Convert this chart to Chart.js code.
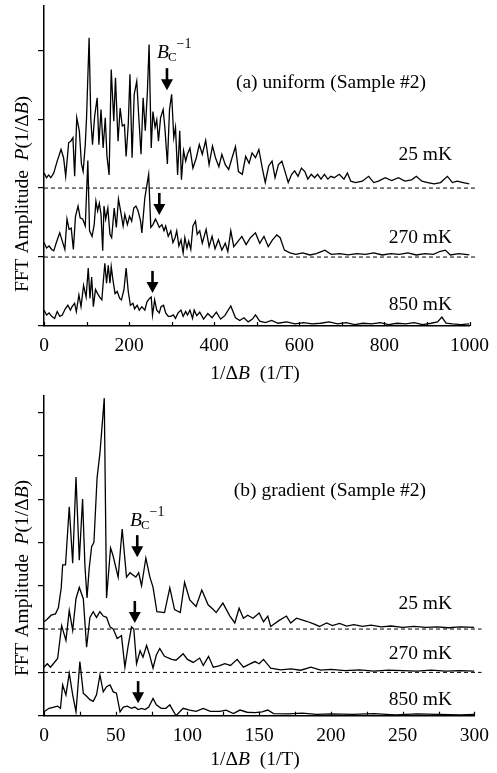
<!DOCTYPE html>
<html><head><meta charset="utf-8">
<script src="https://cdn.jsdelivr.net/npm/chart.js@4"></script>
<style>
html,body{margin:0;padding:0;background:#fff}
body{width:497px;height:773px;overflow:hidden;position:relative}
#w1{position:absolute;left:0;top:0;width:497px;height:386px}
#w2{position:absolute;left:0;top:386px;width:497px;height:387px}
</style></head><body>
<div id="w1"><canvas id="c1"></canvas></div>
<div id="w2"><canvas id="c2"></canvas></div>
<script>
// ---------- Panel (a): uniform, 1/ΔB in 1/T (values relative to each trace's baseline) ----------
const a25x=[0,6,11,16,23,31,40,46,51,58,63,68,72,77,83,88,92,97,100,106,110,114,119,125,129,134,139,144,148,153,158,164,168,174,179,184,189,193,198,202,207,212,218,222,228,233,238,243,247,252,256,261,265,269,274,280,284,290,295,300,305,309,314,319,323,328,333,337,343,350,358,365,372,380,388,396,403,411,418,426,434,442,450,457,466,474,482,489,497,505,513,520,528,536,543,551,559,566,574,582,589,597,605,613,620,628,636,643,651,659,667,674,682,694,705,713,721,732,748,763,775,786,802,817,833,848,864,875,888,902,917,932,948,960,971,985,1000];
const a25y=[0.22,0.15,0.19,0.15,0.22,0.39,0.56,0.44,0.17,0.66,0.68,0.73,0.17,1.02,0.83,0.35,0.24,0.63,1.02,2.18,1.0,0.63,1.04,1.31,0.63,1.14,0.58,1.02,0.46,0.19,1.72,0.97,1.6,0.68,1.16,0.9,0.92,0.46,0.92,1.65,0.44,1.36,1.55,1.11,0.49,1.31,0.83,1.4,2.08,0.58,1.11,0.88,0.99,0.68,1.02,1.14,0.88,0.35,1.14,1.36,0.73,0.88,0.19,0.83,0.12,0.54,0.39,0.49,0.58,0.29,0.44,0.63,0.49,0.69,0.34,0.61,0.44,0.31,0.49,0.34,0.27,0.44,0.6,0.24,0.2,0.46,0.36,0.51,0.44,0.56,0.29,0.08,0.32,0.39,0.15,0.34,0.39,0.25,0.08,0.2,0.25,0.17,0.29,0.24,0.13,0.2,0.15,0.2,0.13,0.2,0.13,0.17,0.15,0.2,0.13,0.22,0.1,0.08,0.1,0.17,0.08,0.1,0.15,0.11,0.15,0.1,0.12,0.17,0.1,0.08,0.06,0.08,0.17,0.08,0.1,0.08,0.06];
const a270x=[0,6,12,18,23,29,37,43,49,54,59,64,69,74,80,85,91,97,103,107,113,118,122,126,130,134,138,141,145,150,155,159,165,170,175,180,186,190,196,201,206,211,216,221,227,230,237,242,246,251,256,262,266,271,277,282,286,292,298,303,308,312,317,322,327,331,336,340,345,350,356,360,366,372,381,388,395,402,410,418,426,432,439,446,455,465,475,485,497,507,517,527,537,547,555,565,578,592,608,625,640,660,675,695,715,735,755,775,795,815,835,855,875,895,915,930,943,955,975,1000];
const a270y=[0.21,0.13,0.16,0.11,0.09,0.21,0.35,0.23,0.11,0.55,0.4,0.42,0.11,0.59,0.74,0.57,0.55,0.45,1.4,0.38,0.3,0.47,0.81,0.67,0.78,0.62,0.09,0.74,0.55,0.71,0.33,0.28,0.71,0.43,0.84,0.67,0.45,0.62,0.47,0.59,0.52,0.71,0.74,0.67,0.52,0.35,0.86,1.05,1.2,0.43,0.47,0.55,0.5,0.43,0.47,0.38,0.45,0.3,0.38,0.21,0.28,0.38,0.16,0.25,0.06,0.28,0.13,0.23,0.11,0.45,0.52,0.33,0.38,0.2,0.4,0.15,0.3,0.12,0.25,0.1,0.2,0.08,0.38,0.15,0.22,0.3,0.18,0.28,0.35,0.2,0.3,0.15,0.25,0.32,0.28,0.1,0.06,0.04,0.06,0.03,0.05,0.1,0.04,0.05,0.03,0.05,0.04,0.06,0.03,0.05,0.04,0.06,0.03,0.05,0.04,0.08,0.1,0.03,0.05,0.03];
const a850x=[0,6,12,18,25,31,37,43,50,56,62,66,72,76,82,87,93,99,104,108,112,116,121,126,131,136,139,143,147,151,155,158,162,167,172,178,182,188,193,198,203,209,213,219,224,230,237,242,248,252,255,260,265,271,275,281,286,292,298,304,309,315,322,327,333,337,343,349,353,359,366,375,385,395,405,415,425,439,450,460,470,480,490,497,507,520,535,550,570,590,610,630,650,670,690,710,730,750,770,790,810,830,850,870,890,910,925,935,945,960,980,1000];
const a850y=[0.23,0.16,0.19,0.14,0.11,0.21,0.14,0.16,0.25,0.3,0.23,0.28,0.33,0.21,0.45,0.28,0.59,0.42,0.84,0.4,0.71,0.28,0.53,0.47,0.42,0.38,0.62,0.91,0.62,0.88,0.62,0.86,0.67,0.47,0.5,0.4,0.38,0.53,0.84,0.5,0.3,0.33,0.25,0.3,0.23,0.28,0.23,0.35,0.4,0.42,0.16,0.38,0.23,0.19,0.28,0.3,0.19,0.14,0.14,0.16,0.11,0.19,0.23,0.14,0.21,0.16,0.23,0.11,0.23,0.15,0.2,0.1,0.18,0.12,0.2,0.1,0.15,0.29,0.12,0.08,0.12,0.06,0.1,0.16,0.07,0.05,0.08,0.04,0.06,0.03,0.05,0.03,0.04,0.06,0.03,0.05,0.02,0.04,0.03,0.05,0.02,0.04,0.03,0.05,0.02,0.04,0.06,0.13,0.04,0.03,0.02,0.03];

// ---------- Panel (b): gradient ----------
const b25x=[0,2,5,8,10,12,13,15,17.6,20,22.3,24.6,26.9,28.5,30,31.5,33.2,34.8,37,39,42,43.6,46.4,48,51.7,54.5,57.5,60,62,64,66,68,71,73.8,76,78.7,84,87.7,91,95,98,101.6,106,110,114.4,118,120,124.7,129.6,133,136,139,142,145.7,150,153,156,158,164,169,172,176,183,188,192,197,201,206,211,216,222,228,235,242,250,258,266,274,282,290,300];
const b25y=[0.17,0.22,0.32,0.35,0.49,0.95,1.48,1.48,2.82,1.52,3.51,1.59,3.0,1.48,0.72,1.4,1.9,2.0,3.49,4.06,5.33,0.72,1.87,1.71,1.2,2.31,1.2,1.3,1.25,1.2,1.3,1.0,1.64,1.2,0.97,0.4,0.38,0.95,0.45,0.38,1.08,0.67,0.52,0.9,0.56,0.45,0.38,0.6,0.3,0.14,0.48,0.25,0.32,0.25,0.37,0.17,0.3,0.06,0.2,0.3,0.14,0.25,0.18,0.12,0.06,0.14,0.08,0.13,0.07,0.1,0.06,0.09,0.05,0.07,0.04,0.06,0.04,0.05,0.03,0.05,0.04];
const b270x=[0,2.3,4.5,6.5,9.5,12.3,15.3,17.6,20,22.3,24.6,27.4,29.7,32,34.3,36.6,39,41.3,43.6,46,48.3,51,54,56.4,58.7,61,62.6,64.5,67,69,71.5,73.6,76,78.3,80.7,84,89,92,97,100,104,108.5,111,114.7,118,122,126,130,134.6,139,142.6,147,150,153,158,165,172,179,186,193,200,210,220,230,240,250,260,270,280,290,300];
const b270y=[0.12,0.2,0.12,0.2,0.32,1.08,0.74,1.43,0.97,1.7,1.96,1.7,0.58,1.27,1.4,1.27,1.4,1.3,1.27,1.05,1.0,0.78,0.85,0.12,0.62,1.05,1.0,0.2,0.5,0.35,0.62,0.4,0.1,0.4,0.55,0.37,0.3,0.28,0.43,0.3,0.23,0.33,0.16,0.37,0.12,0.15,0.2,0.16,0.3,0.12,0.18,0.25,0.2,0.3,0.1,0.06,0.08,0.05,0.12,0.05,0.07,0.04,0.06,0.03,0.05,0.04,0.03,0.05,0.03,0.04,0.03];
const b850x=[0,3.5,7,9.5,11.5,13,15.3,17.6,20,22.3,25,27.4,29.7,32,34.3,36.6,39,41.3,43.6,46,48.3,50.5,53,55.3,58,61,63.3,65.6,68,70.5,73,76,78.3,81.7,85,87.7,92,97,101.6,106,111,116,122.5,127,132,136.6,141.6,147,152,156,160,170,180,190,200,215,230,245,260,275,290,300];
const b850y=[0.09,0.17,0.2,0.22,0.17,0.71,0.48,0.98,0.48,0.09,1.25,0.52,0.45,0.37,0.33,0.48,0.94,0.55,0.67,0.71,0.55,0.52,0.09,0.2,0.22,0.17,0.2,0.14,0.17,0.14,0.2,0.4,0.25,0.17,0.17,0.25,0.0,0.17,0.13,0.1,0.17,0.1,0.1,0.13,0.05,0.13,0.08,0.07,0.09,0.13,0.05,0.04,0.06,0.03,0.04,0.03,0.05,0.02,0.04,0.03,0.02,0.03];

const traceOffsets=[2,1,0];           // vertical offsets of 25 mK, 270 mK, 850 mK traces
const traceLabels=['25 mK','270 mK','850 mK'];
const aArrowX=[289,271,255], aArrowTip=[3.42,1.61,0.48];
const bArrowX=[65,63.3,65.6], bArrowTip=[3.66,2.14,0.29];

const FF='"Liberation Serif","Times New Roman",serif';
const FS=19.5;
function pts(xs,ys,b){return xs.map((x,i)=>({x:x,y:b+ys[i]}));}

function rich(ctx,segs,x,y,align,size){
  let w=0;
  segs.forEach(s=>{ctx.font=(s.i?'italic ':'')+size+'px '+FF;w+=ctx.measureText(s.t).width;});
  let cx = align==='center'? x-w/2 : align==='right'? x-w : x;
  ctx.textAlign='left';
  segs.forEach(s=>{ctx.font=(s.i?'italic ':'')+size+'px '+FF;ctx.fillText(s.t,cx,y);cx+=ctx.measureText(s.t).width;});
}

function overlay(cfg){
  return {id:'ov',afterDraw(chart){
    const ctx=chart.ctx, xs=chart.scales.x, ys=chart.scales.y, ca=chart.chartArea;
    ctx.save();
    ctx.fillStyle='#000'; ctx.strokeStyle='#000';
    ctx.lineWidth=1.2;
    for(let v=0;v<=cfg.xMax+1e-9;v+=cfg.minor){
      const p=Math.round(xs.getPixelForValue(v))+0.5;
      ctx.beginPath();ctx.moveTo(p,ca.bottom);ctx.lineTo(p,ca.bottom-4);ctx.stroke();
    }
    ctx.textBaseline='alphabetic';
    rich(ctx,[{t:'1/Δ'},{t:'B',i:1},{t:'  (1/T)'}],255,cfg.xTitleY,'center',FS);
    ctx.save();ctx.translate(28,cfg.yTitleY);ctx.rotate(-Math.PI/2);
    rich(ctx,[{t:'FFT Amplitude  '},{t:'P',i:1},{t:'(1/Δ'},{t:'B',i:1},{t:')'}],0,0,'center',FS);
    ctx.restore();
    rich(ctx,[{t:cfg.title}],426,cfg.titleY,'right',FS);
    traceLabels.forEach((t,k)=>rich(ctx,[{t:t}],452,cfg.labY[k],'right',FS));
    cfg.arrX.forEach((ax,k)=>{
      const px=xs.getPixelForValue(ax), tip=ys.getPixelForValue(cfg.arrTip[k]);
      ctx.fillRect(px-1.3,tip-22,2.6,12);
      ctx.beginPath();ctx.moveTo(px-6,tip-11);ctx.lineTo(px+6,tip-11);ctx.lineTo(px,tip);ctx.closePath();ctx.fill();
    });
    const bx=cfg.bcX, by=cfg.bcY;
    ctx.font='italic 19.5px '+FF; ctx.textAlign='left'; ctx.fillText('B',bx,by);
    const bw=ctx.measureText('B').width;
    ctx.font='13px '+FF; ctx.fillText('C',bx+bw-1,by+3);
    const cw=ctx.measureText('C').width;
    ctx.font='14px '+FF; ctx.fillText('−1',bx+bw+cw-1,by-10);
    ctx.restore();
  }};
}

function makeChart(id,cfg){
  const ds=cfg.series.map((s,k)=>({data:pts(s[0],s[1],traceOffsets[k]),borderColor:'#000',borderWidth:1.3,pointRadius:0,tension:0,fill:false}));
  traceOffsets.slice(0,2).forEach(b=>ds.push({data:[{x:0,y:b},{x:cfg.dashEnd,y:b}],borderColor:'#000',borderWidth:1,borderDash:[4,3],pointRadius:0,clip:false}));
  return new Chart(document.getElementById(id),{
    type:'line',
    data:{datasets:ds},
    options:{
      responsive:true,maintainAspectRatio:false,animation:false,
      layout:{padding:{left:0,right:22,top:cfg.padTop,bottom:0}},
      plugins:{legend:{display:false},tooltip:{enabled:false}},
      scales:{
        x:{type:'linear',min:0,max:cfg.xMax,
          border:{display:true,color:'#000',width:1.5},
          grid:{display:true,drawOnChartArea:false,drawTicks:false},
          ticks:{stepSize:cfg.xStep,font:{family:FF,size:FS},color:'#000',padding:cfg.tickPad,maxRotation:0,autoSkip:false,
            callback:v=>String(v)},
          afterFit:s=>{s.height=cfg.xH;}},
        y:{type:'linear',min:0,max:cfg.yMax,
          border:{display:true,color:'#000',width:1.5},
          grid:{display:true,drawOnChartArea:false,drawTicks:true,tickLength:6,color:'#000',lineWidth:1.2},
          ticks:{display:false,stepSize:1,includeBounds:false},
          afterFit:s=>{s.width=44;}}
      }
    },
    plugins:[overlay(cfg)]
  });
}

makeChart('c1',{series:[[a25x,a25y],[a270x,a270y],[a850x,a850y]],xMax:1000,xStep:200,minor:100,yMax:4.64,
  padTop:6,xH:60,tickPad:8,dashEnd:1018,xTitleY:379,yTitleY:194,title:'(a) uniform (Sample #2)',titleY:88,
  labY:[160,243,310],arrX:aArrowX,arrTip:aArrowTip,bcX:157,bcY:58});
makeChart('c2',{series:[[b25x,b25y],[b270x,b270y],[b850x,b850y]],xMax:300,xStep:50,minor:25,yMax:7.38,
  padTop:10,xH:57.3,tickPad:8,dashEnd:305,xTitleY:379,yTitleY:192,title:'(b) gradient (Sample #2)',titleY:110,
  labY:[223,273,319],arrX:bArrowX,arrTip:bArrowTip,bcX:130,bcY:140});
</script>
</body></html>
